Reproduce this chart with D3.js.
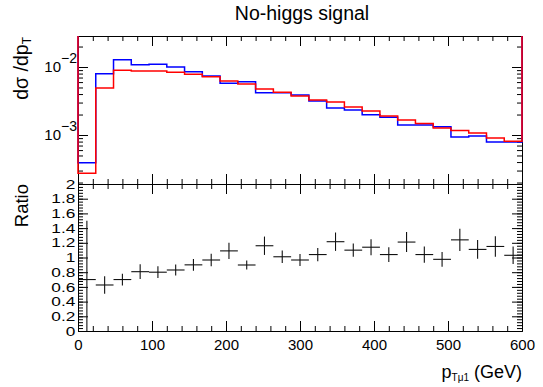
<!DOCTYPE html>
<html><head><meta charset="utf-8">
<script src="https://cdn.jsdelivr.net/npm/d3@7"></script>
<style>
body{margin:0;background:#fff}
text{font-family:"Liberation Sans",Arial,Helvetica,sans-serif;fill:#000}
</style>
</head><body>
<svg id="c" width="543" height="387"></svg>
<script>
// ---- data ----
const binWidth = 24; // GeV
const binLowEdges = d3.range(25).map(i => i * binWidth);
const blueValues = [3.92e-4, 7.97e-3, 1.28e-2, 1.08e-2, 1.096e-2, 1.0e-2, 8.53e-3, 7.37e-3, 5.76e-3, 6.08e-3,
  4.19e-3, 4.19e-3, 3.87e-3, 3.16e-3, 2.49e-3, 2.33e-3, 1.99e-3, 1.82e-3, 1.40e-3, 1.40e-3,
  1.32e-3, 9.35e-4, 9.67e-4, 7.89e-4, 7.89e-4];
const redValues = [2.73e-4, 4.91e-3, 8.94e-3, 8.73e-3, 8.73e-3, 8.36e-3, 7.81e-3, 7.20e-3, 6.22e-3, 5.62e-3,
  4.75e-3, 4.25e-3, 3.75e-3, 3.27e-3, 3.06e-3, 2.58e-3, 2.25e-3, 1.90e-3, 1.66e-3, 1.47e-3,
  1.27e-3, 1.16e-3, 1.07e-3, 9.03e-4, 8.08e-4];
const ratioValues = [0.70, 0.626, 0.70, 0.807, 0.80, 0.83, 0.90, 0.966, 1.09, 0.898,
  1.16, 1.01, 0.966, 1.04, 1.215, 1.10, 1.14, 1.04, 1.21, 1.04,
  0.975, 1.24, 1.11, 1.15, 1.03];
const ratioErrors = [0.8, 0.12, 0.08, 0.1, 0.08, 0.075, 0.08, 0.085, 0.11, 0.06,
  0.125, 0.085, 0.08, 0.09, 0.125, 0.09, 0.11, 0.1, 0.136, 0.11,
  0.1, 0.15, 0.127, 0.14, 0.12];
const xTickValues = [0, 100, 200, 300, 400, 500, 600];
const xTickLabels = ["0", "100", "200", "300", "400", "500", "600"];
const ratioTickValues = [0, 0.2, 0.4, 0.6, 0.8, 1, 1.2, 1.4, 1.6, 1.8, 2];
const ratioTickLabels = ["0", "0.2", "0.4", "0.6", "0.8", "1", "1.2", "1.4", "1.6", "1.8", "2"];
const logMajorValues = [1e-3, 1e-2];
const logMajorExponents = ["\u22123", "\u22122"];
const titleText = "No-higgs signal";

// ---- layout ----
const L = 78, R = 522, topT = 36, topB = 184, botT = 184, botB = 331;
const svg = d3.select("#c");
const x = d3.scaleLinear([0, 600], [L, R]);
const yTop = d3.scaleLog([1.903e-4, 2.857e-2], [topB, topT]);
const yR = d3.scaleLinear([0, 2], [botB, botT]);

function styleAxis(g) {
  g.selectAll("path.domain").attr("stroke", "#000").attr("stroke-width", 1);
  g.selectAll(".tick line").attr("stroke", "#000").attr("stroke-width", 1);
  g.attr("font-family", null).attr("font-size", null);
}
function addAxis(gen, tx, ty) {
  const g = svg.append("g").attr("transform", `translate(${tx},${ty})`).call(gen);
  styleAxis(g);
  return g;
}
const minorX = d3.range(0, 601, 20);
const none = () => "";

// ---- top panel axes ----
addAxis(d3.axisTop(x).tickValues(xTickValues).tickSize(-10).tickSizeOuter(0).tickFormat(none), 0, topT);
addAxis(d3.axisTop(x).tickValues(minorX).tickSize(-5).tickSizeOuter(0).tickFormat(none), 0, topT);
addAxis(d3.axisBottom(x).tickValues(xTickValues).tickSize(-10).tickSizeOuter(0).tickFormat(none), 0, topB);
addAxis(d3.axisBottom(x).tickValues(minorX).tickSize(-5).tickSizeOuter(0).tickFormat(none), 0, topB);
const logMinor = [];
[1e-4, 1e-3, 1e-2].forEach(d => { for (let k = 2; k <= 9; k++) { const v = k * d; if (v > 1.903e-4 && v < 2.857e-2) logMinor.push(v); } });
addAxis(d3.axisLeft(yTop).tickValues(logMajorValues).tickSize(-10).tickSizeOuter(0).tickFormat(none), L, 0);
addAxis(d3.axisLeft(yTop).tickValues(logMinor).tickSize(-5).tickSizeOuter(0).tickFormat(none), L, 0);
addAxis(d3.axisRight(yTop).tickValues(logMajorValues).tickSize(-10).tickSizeOuter(0).tickFormat(none), R, 0);
addAxis(d3.axisRight(yTop).tickValues(logMinor).tickSize(-5).tickSizeOuter(0).tickFormat(none), R, 0);
// log labels
logMajorValues.forEach((v, i) => {
  const t = svg.append("text").attr("x", L - 1).attr("y", yTop(v)).attr("dy", "0.36em")
    .attr("text-anchor", "end").attr("font-size", 15);
  t.append("tspan").text("10");
  t.append("tspan").attr("dy", -9).attr("font-size", 14).text(logMajorExponents[i]);
});

// ---- bottom panel axes ----
addAxis(d3.axisBottom(x).tickValues(xTickValues).tickSize(10).tickSizeOuter(0).tickFormat(none), 0, botT);
addAxis(d3.axisBottom(x).tickValues(minorX).tickSize(5).tickSizeOuter(0).tickFormat(none), 0, botT);
const xb = addAxis(d3.axisBottom(x).tickValues(xTickValues).tickSize(-10).tickSizeOuter(0).tickPadding(8)
  .tickFormat((d, i) => xTickLabels[i]), 0, botB);
xb.selectAll("text").attr("font-size", 15);
addAxis(d3.axisBottom(x).tickValues(minorX).tickSize(-5).tickSizeOuter(0).tickFormat(none), 0, botB);
const ratioMinor = d3.range(0, 51).map(i => i * 0.04);
const yl = addAxis(d3.axisLeft(yR).tickValues(ratioTickValues).tickSize(-10).tickSizeOuter(0).tickPadding(2)
  .tickFormat((d, i) => ratioTickLabels[i]), L, 0);
yl.selectAll("text").attr("font-size", 12.8).attr("transform", "scale(1.35,1)");
addAxis(d3.axisLeft(yR).tickValues(ratioMinor).tickSize(-5).tickSizeOuter(0).tickFormat(none), L, 0);
addAxis(d3.axisRight(yR).tickValues(ratioTickValues).tickSize(-10).tickSizeOuter(0).tickFormat(none), R, 0);
addAxis(d3.axisRight(yR).tickValues(ratioMinor).tickSize(-5).tickSizeOuter(0).tickFormat(none), R, 0);

// ---- histograms ----
function histPath(vals) {
  const p = d3.path();
  p.moveTo(x(0), yTop.range()[1]);
  vals.forEach((v, i) => {
    p.lineTo(x(binLowEdges[i]), yTop(v));
    p.lineTo(x(binLowEdges[i] + binWidth), yTop(v));
  });
  p.lineTo(x(600), yTop.range()[1]);
  return p.toString();
}
svg.append("path").attr("d", histPath(blueValues)).attr("fill", "none").attr("stroke", "#0000ff").attr("stroke-width", 1.5);
svg.append("path").attr("d", histPath(redValues)).attr("fill", "none").attr("stroke", "#ff0000").attr("stroke-width", 1.5);

// ---- ratio points ----
const pts = svg.append("g").attr("stroke", "#111").attr("stroke-width", 1.1);
ratioValues.forEach((v, i) => {
  const lo = binLowEdges[i], c = lo + binWidth / 2;
  pts.append("line").attr("x1", x(lo)).attr("x2", x(lo + binWidth)).attr("y1", yR(v)).attr("y2", yR(v));
  pts.append("line").attr("x1", x(c)).attr("x2", x(c))
    .attr("y1", yR(Math.max(0, v - ratioErrors[i]))).attr("y2", yR(Math.min(2, v + ratioErrors[i])));
});

// ---- titles ----
svg.append("text").attr("x", 302).attr("y", 20).attr("text-anchor", "middle").attr("font-size", 19.5).text(titleText);
const yt = svg.append("text").attr("transform", `translate(28,${topT + 1}) rotate(-90)`).attr("text-anchor", "end").attr("font-size", 19.5);
yt.append("tspan").text("d\u03c3 /dp");
yt.append("tspan").attr("font-size", 12).attr("dy", 3).text("T");
svg.append("text").attr("transform", `translate(28,${botT}) rotate(-90)`).attr("text-anchor", "end").attr("font-size", 18.5).text("Ratio");
const xt = svg.append("text").attr("x", R).attr("y", 378).attr("text-anchor", "end").attr("font-size", 18);
xt.append("tspan").text("p");
xt.append("tspan").attr("font-size", 10).attr("dy", 3).text("T\u03bc1");
xt.append("tspan").attr("dy", -3).text(" (GeV)");
</script>
</body></html>
